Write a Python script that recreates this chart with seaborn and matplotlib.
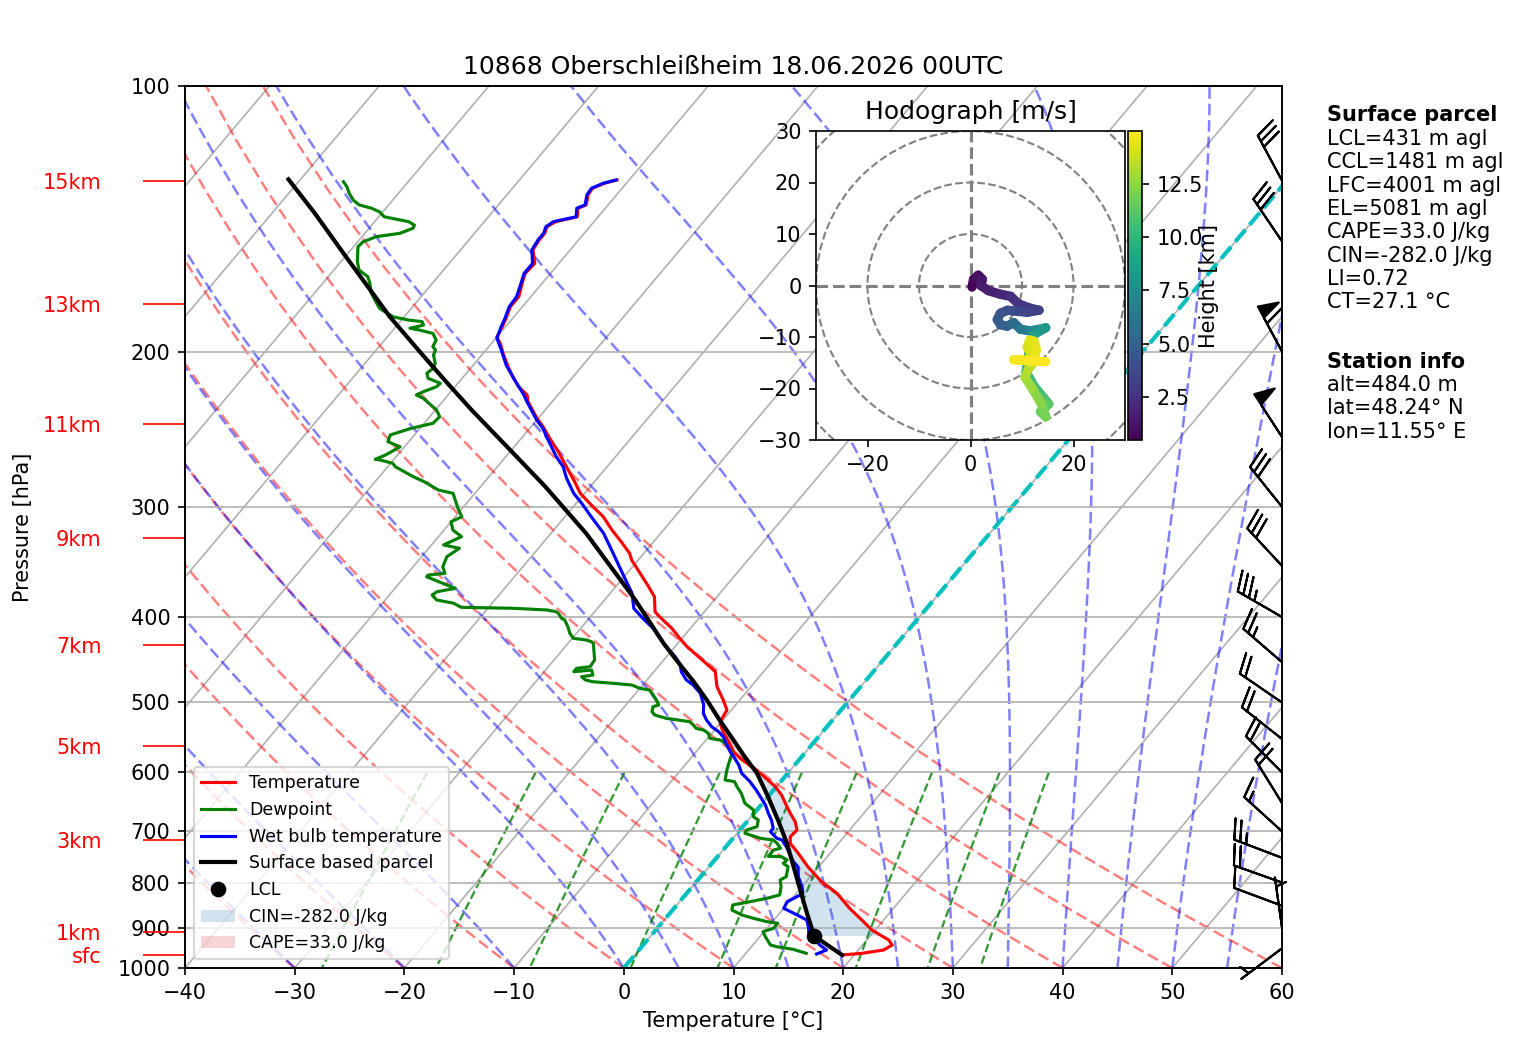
import numpy as np
import matplotlib
matplotlib.use("Agg")
import matplotlib.pyplot as plt
import matplotlib.transforms as mtransforms
from matplotlib.collections import LineCollection
from matplotlib.lines import Line2D
from matplotlib.patches import Patch, Circle
from matplotlib.ticker import NullLocator
from matplotlib.colors import Normalize
import seaborn as sns

# ---------------- data ----------------
TITLE = "10868 Oberschleißheim 18.06.2026 00UTC"

TEMP_P = [966.6, 962.3, 954.1, 941.7, 929.5, 905.6, 886.1, 855.7, 822.8, 798.3, 767.6, 741.2, 722.1, 709.8,
          697.5, 682.6, 667.7, 656.4, 636.6, 622.9, 614.8, 601.5, 591.3, 578.4, 568.6, 553.9, 539.6, 527.9,
          521.1, 509.9, 496.8, 479.8, 461.4, 457.3, 445.5, 432.2, 422.9, 411.9, 399.7, 394.5, 379.4, 369.6,
          356.9, 344.7, 338.7, 327.2, 318.7, 307.9, 298.6, 289.6, 281.0, 270.2, 259.8, 250.9, 243.4, 238.1,
          228.0, 224.0, 219.3, 213.6, 208.1, 200.9, 195.8, 192.6, 187.5, 183.4, 177.9, 173.3, 166.7, 163.1,
          158.9, 153.4, 149.5, 146.9, 144.4, 142.5, 140.7, 137.6, 136.4, 132.9, 130.6, 128.9, 127.8]
TEMP_T = [18.9, 20.6, 22.3, 22.7, 22.0, 19.7, 18.3, 16.0, 13.7, 11.4, 9.0, 7.1, 5.6, 5.1,
          5.2, 4.4, 3.3, 2.5, 1.1, -0.1, -1.0, -2.5, -3.8, -5.5, -6.6, -7.8, -9.1, -10.0,
          -10.2, -10.4, -11.5, -13.1, -14.4, -15.0, -16.8, -18.9, -20.2, -21.7, -23.7, -24.5, -25.7, -27.0,
          -28.8, -30.6, -31.3, -33.2, -34.7, -36.5, -38.5, -40.4, -41.8, -43.7, -45.6, -47.4, -48.9, -50.1,
          -52.2, -52.8, -54.2, -55.5, -56.7, -58.2, -59.2, -60.0, -60.3, -60.6, -61.1, -61.1, -61.9, -62.3,
          -62.2, -63.4, -63.6, -63.6, -63.9, -63.5, -61.9, -62.5, -62.0, -62.6, -62.7, -62.0, -61.1]

DEW_P = [962.3, 952.4, 945.9, 941.7, 921.5, 909.6, 901.6, 889.9, 886.1, 878.3, 870.8, 859.5, 848.3, 841.1,
         833.6, 826.5, 808.8, 794.8, 787.9, 767.6, 760.8, 754.3, 747.8, 747.0, 734.9, 731.6, 722.1, 715.9,
         712.8, 703.5, 697.5, 691.5, 679.6, 673.7, 662.0, 650.5, 633.8, 622.9, 614.8, 612.1, 596.4, 581.0,
         570.9, 556.2, 551.5, 549.0, 541.9, 537.3, 534.9, 530.3, 525.7, 521.1, 516.6, 512.2, 505.5, 503.3,
         496.8, 488.2, 484.0, 481.8, 477.7, 475.6, 473.6, 471.5, 467.5, 465.4, 459.4, 461.4, 457.3, 455.4,
         447.5, 428.4, 426.6, 424.7, 422.9, 417.4, 410.2, 403.1, 401.4, 396.1, 394.5, 392.7, 391.0, 390.0,
         385.9, 382.6, 377.7, 374.4, 371.1, 368.0, 360.1, 358.5, 356.9, 350.8, 341.7, 334.3, 331.4, 324.3,
         318.7, 311.9, 307.9, 301.2, 289.6, 287.1, 281.0, 277.3, 270.2, 267.8, 265.5, 265.0, 262.1, 256.5,
         253.1, 248.7, 244.4, 241.2, 237.1, 233.0, 228.0, 226.0, 224.0, 222.1, 219.3, 217.3, 214.5, 211.7,
         208.9, 206.3, 201.8, 199.2, 197.5, 194.1, 190.8, 189.1, 188.2, 186.7, 185.0, 184.2, 182.7, 178.7,
         171.8, 167.4, 164.5, 161.7, 158.2, 152.1, 150.2, 148.2, 146.9, 145.0, 143.8, 142.5, 140.7, 138.9,
         137.6, 136.4, 134.7, 132.3, 130.1, 128.4]
DEW_T = [15.5, 14.0, 12.3, 11.6, 10.5, 9.9, 10.6, 10.6, 9.5, 8.0, 6.7, 5.4, 5.1, 6.4,
         7.7, 8.6, 8.1, 7.5, 7.8, 7.2, 6.5, 6.6, 5.8, 4.6, 4.6, 5.1, 4.4, 3.8,
         2.5, 0.7, 0.6, 1.3, 0.9, 0.2, -0.3, -1.6, -2.7, -3.6, -4.2, -5.2, -5.8, -6.3,
         -6.6, -8.0, -8.7, -9.8, -10.3, -11.0, -11.8, -12.3, -12.9, -15.3, -16.6, -17.1, -17.4, -17.0,
         -17.6, -18.5, -19.0, -20.0, -21.0, -22.8, -24.8, -25.6, -26.2, -25.3, -25.8, -27.3, -27.3, -26.2,
         -26.3, -27.7, -28.0, -28.6, -29.9, -30.6, -31.3, -32.1, -32.5, -33.2, -33.5, -34.5, -37.7, -42.5,
         -43.5, -45.3, -46.1, -45.9, -44.5, -45.5, -48.0, -48.0, -46.6, -47.3, -47.7, -47.2, -48.9, -47.9,
         -49.2, -50.0, -49.4, -50.4, -52.0, -53.6, -55.5, -56.9, -59.3, -59.8, -61.2, -61.7, -61.1, -60.4,
         -61.9, -62.2, -60.8, -59.2, -59.1, -59.9, -61.4, -62.0, -62.9, -62.5, -61.7, -61.6, -63.1, -63.6,
         -63.4, -63.6, -64.4, -64.6, -65.1, -65.3, -66.1, -67.6, -68.6, -67.6, -68.0, -69.4, -71.0, -72.9,
         -74.8, -75.7, -76.4, -77.7, -78.5, -79.6, -79.5, -78.7, -76.8, -76.0, -76.1, -76.9, -79.5, -80.3,
         -81.3, -82.7, -83.6, -84.5, -85.2, -85.9]

WET_P = [964.1, 954.1, 941.7, 913.4, 901.6, 882.2, 866.9, 855.7, 841.1, 830.2, 822.8, 808.8, 787.9, 767.6,
         757.7, 741.2, 728.6, 715.9, 712.8, 700.6, 694.4, 679.6, 667.7, 653.4, 639.4, 628.3, 614.8, 601.5,
         588.6, 576.0, 568.6, 551.5, 546.7, 539.6, 532.7, 523.4, 514.3, 503.3, 488.2, 477.7, 471.5, 461.4,
         453.4, 443.7, 432.2, 422.0, 411.9, 401.4, 391.0, 376.0, 368.0, 350.8, 338.7, 321.5, 307.9, 297.3,
         289.6, 278.5, 270.2, 263.2, 258.7, 249.9, 244.4, 239.2, 227.0, 224.0, 214.5, 207.2, 199.2, 193.2,
         187.5, 183.4, 177.9, 173.3, 166.7, 163.1, 158.9, 153.4, 149.5, 146.9, 144.4, 142.5, 140.7, 137.6,
         136.4, 132.9, 130.6, 128.9, 127.8]
WET_T = [16.5, 17.1, 16.1, 14.2, 13.8, 13.0, 11.3, 10.0, 9.8, 10.3, 10.6, 10.0, 8.9, 8.1,
         7.3, 6.3, 5.5, 4.6, 4.0, 2.9, 2.9, 2.1, 1.3, 0.4, -0.7, -1.6, -2.8, -4.2,
         -5.1, -6.2, -6.9, -8.3, -8.7, -9.5, -10.5, -11.5, -12.3, -12.9, -14.1, -15.4, -16.4, -17.5,
         -18.1, -19.2, -20.8, -22.1, -23.4, -25.1, -26.7, -28.0, -29.0, -31.2, -32.8, -35.2, -37.6, -39.5,
         -41.0, -42.8, -44.0, -45.4, -46.2, -47.8, -48.8, -50.0, -52.5, -53.1, -55.3, -57.0, -58.6, -59.9,
         -60.4, -60.7, -61.2, -61.3, -62.0, -62.4, -62.4, -63.5, -63.7, -63.7, -64.0, -63.7, -62.0, -62.6,
         -62.1, -62.7, -62.8, -62.1, -61.2]

PARCEL_P = [966.6, 919.9, 866.9, 815.8, 767.6, 722.1, 679.6, 639.4, 601.5, 576.0, 551.5, 523.4, 496.8, 473.6,
            449.5, 428.4, 382.6, 366.3, 321.5, 284.6, 258.7, 233.0, 216.4, 201.8, 182.7, 154.8, 139.4, 127.6]
PARCEL_T = [18.9, 14.9, 12.5, 10.1, 7.7, 5.3, 2.7, 0.0, -2.8, -5.2, -7.5, -10.3, -13.0, -15.6,
            -18.6, -21.3, -27.2, -29.6, -36.8, -44.1, -50.1, -56.7, -61.2, -65.4, -71.3, -80.4, -86.1, -91.1]

LCL_P, LCL_T = 919.9, 14.9
EL_P = 524.0
CAPE_LABEL = "CAPE=33.0 J/kg"
CIN_LABEL = "CIN=-282.0 J/kg"

# wind barbs (knots)
BARB_P = [950, 900, 850, 800, 750, 700, 650, 600, 550, 500, 450, 400, 350, 300, 250, 200, 150, 128]
BARB_U = [4.0, 0.7, 9.4, 18.8, 23.4, 11.1, 10.5, 14.1, 15.7, 16.5, 18.9, 30.3, 20.4, 18.8, 27.2, 28.4, 16.8, 14.2]
BARB_V = [3.0, -4.95, -3.5, -6.7, -8.9, -10.1, -17.0, -14.1, -12.4, -11.3, -16.3, -17.5, -22.0, -23.4,
          -41.9, -52.8, -24.8, -26.4]

# hodograph (m/s) and height (km)
HODO_U = [0.3, 0.6, 1.5, 2.3, 2.0, 3.5, 5.8, 7.8, 9.1, 10.4, 12.3, 13.3, 11.0, 9.0, 7.2, 5.8, 5.2, 5.8, 7.1, 8.4,
          9.7, 11.5, 13.5, 14.6, 12.3, 11.5, 11.2, 10.8, 12.3, 14.2, 15.2, 13.6, 14.6, 13.8, 12.0, 10.6, 11.2,
          12.0, 11.8, 11.0, 11.5, 12.3, 12.8, 12.2, 8.4, 11.0, 14.6]
HODO_V = [-0.3, 1.2, 2.0, 1.2, 0.0, -1.0, -1.7, -2.1, -3.4, -4.0, -4.6, -4.8, -5.2, -5.0, -4.8, -5.4, -6.6, -7.6,
          -7.9, -7.2, -8.5, -8.8, -8.5, -8.2, -9.5, -11.5, -14.0, -16.8, -19.5, -21.8, -23.0, -24.5, -25.5,
          -23.0, -20.0, -17.8, -16.3, -15.2, -13.5, -12.0, -10.6, -10.8, -12.5, -14.5, -14.4, -14.6, -14.8]
HODO_H = [0.48, 0.8, 1.0, 1.2, 1.4, 1.6, 1.9, 2.2, 2.5, 2.7, 3.0, 3.2, 3.4, 3.6, 3.8, 4.0, 4.3, 4.6, 4.9, 5.2,
          6.0, 6.8, 7.5, 8.0, 8.4, 8.8, 9.3, 9.8, 10.3, 10.8, 11.1, 11.4, 11.8, 12.2, 12.6, 13.0, 13.3,
          13.6, 13.8, 14.0, 14.2, 14.3, 14.45, 14.6, 14.7, 14.85, 14.98]
CBAR_TICKS = [2.5, 5.0, 7.5, 10.0, 12.5]

HGT_P = [966.6, 910.3, 715.9, 560.2, 430.2, 325.5, 241.6, 176.7, 128.1]
HGT_LABELS = ["sfc", "1km", "3km", "5km", "7km", "9km", "11km", "13km", "15km"]

YTICKS = [100, 200, 300, 400, 500, 600, 700, 800, 900, 1000]
YTICK_LABELS = ["100", "200", "300", "400", "500", "600", "700", "800", "900", "1000"]
XTICKS = [-40, -30, -20, -10, 0, 10, 20, 30, 40, 50, 60]

PARCEL_TEXT = ["LCL=431 m agl", "CCL=1481 m agl", "LFC=4001 m agl", "EL=5081 m agl",
               "CAPE=33.0 J/kg", "CIN=-282.0 J/kg", "LI=0.72", "CT=27.1 °C"]
STATION_TEXT = ["alt=484.0 m", "lat=48.24° N", "lon=11.55° E"]

DRY_T0 = np.arange(-40, 61, 10)
MOIST_T0 = np.concatenate((np.arange(-40, 0, 10), np.arange(0, 61, 5)))
MIX_W = [0.0004, 0.001, 0.002, 0.004, 0.007, 0.01, 0.016, 0.024, 0.032]

# ---------------- figure ----------------
W, H, DPI = 1517, 1054, 150
fig = plt.figure(figsize=(W / DPI, H / DPI), dpi=DPI)
ax = fig.add_axes([185 / W, (H - 968) / H, 1097 / W, 882 / H])
ax.set_yscale("log")
ax.set_xlim(-40, 60)
ax.set_ylim(1000, 100)
ax.set_autoscale_on(False)

SKEW_DEG = np.degrees(np.arctan(0.842 * 882 / 1097))
skew = ax.transScale + ax.transLimits + mtransforms.Affine2D().skew_deg(SKEW_DEG, 0) + ax.transAxes

# isotherms
for t in np.arange(-140, 61, 10):
    ax.plot([t, t], [1000, 100], color="#b0b0b0", lw=0.8, transform=skew, zorder=0.8)

DASH = (0, (4.6, 2.0))

# dry adiabats
p_lines = np.linspace(1000, 100, 60)
segs = []
for th in DRY_T0:
    tt = (th + 273.15) * (p_lines / 1000.0) ** 0.28571 - 273.15
    segs.append(np.column_stack([tt, p_lines]))
ax.add_collection(LineCollection(segs, colors="r", linestyles=[DASH], alpha=0.5, linewidths=1.2,
                                 transform=skew, zorder=1), autolim=False)

# moist adiabats
def moist_profiles(t0c, p):
    Rd, Cp, Lv, eps = 287.04749, 1004.6662, 2.50084e6, 0.62196

    def f(pp, T):
        es = 6.112 * np.exp(17.67 * (T - 273.15) / (T - 29.65))
        rs = eps * es / (pp - es)
        return (Rd * T + Lv * rs) / (Cp + Lv * Lv * rs * eps / (Rd * T * T)) / pp

    T = np.zeros((len(p), len(t0c)))
    T[0] = np.asarray(t0c, float) + 273.15
    for i in range(1, len(p)):
        h = p[i] - p[i - 1]
        y = T[i - 1]
        k1 = f(p[i - 1], y)
        k2 = f(p[i - 1] + h / 2, y + h / 2 * k1)
        k3 = f(p[i - 1] + h / 2, y + h / 2 * k2)
        k4 = f(p[i], y + h * k3)
        T[i] = y + h / 6 * (k1 + 2 * k2 + 2 * k3 + k4)
    return T - 273.15

p_moist = np.linspace(1000, 100, 200)
tm = moist_profiles(MOIST_T0, p_moist)
segs = [np.column_stack([tm[:, j], p_moist]) for j in range(len(MOIST_T0))]
ax.add_collection(LineCollection(segs, colors="b", linestyles=[DASH], alpha=0.5, linewidths=1.2,
                                 transform=skew, zorder=1), autolim=False)

# mixing ratio lines
p_mix = np.linspace(600, 1000, 50)
segs = []
for w in MIX_W:
    e = p_mix * w / (0.622 + w)
    lne = np.log(e / 6.112)
    td = 243.5 * lne / (17.67 - lne)
    segs.append(np.column_stack([td, p_mix]))
ax.add_collection(LineCollection(segs, colors="g", linestyles="dashed", alpha=0.8, linewidths=1.1,
                                 transform=skew, zorder=1), autolim=False)

# 0 degC isotherm
ax.plot([0, 0], [1000, 100], color="c", ls="--", lw=2, transform=skew, zorder=1.5)

# CIN / CAPE shading
tp = np.array(TEMP_P); tt = np.array(TEMP_T)
pp_ = np.array(PARCEL_P); pt_ = np.array(PARCEL_T)
grid = np.concatenate([[LCL_P], tp[(tp < LCL_P) & (tp > EL_P)], [EL_P]])
t_env = np.interp(-np.log(grid), -np.log(tp), tt)
t_par = np.interp(-np.log(grid), -np.log(pp_), pt_)
ax.fill_betweenx(grid, t_par, t_env, where=t_par <= t_env, interpolate=True, facecolor="tab:blue",
                 alpha=0.2, lw=0, transform=skew, zorder=1.2)
ax.fill_betweenx(grid, t_par, t_env, where=t_par >= t_env, interpolate=True, facecolor="tab:red",
                 alpha=0.2, lw=0, transform=skew, zorder=1.2)

# profiles (seaborn)
sns.lineplot(x=TEMP_T, y=TEMP_P, ax=ax, sort=False, estimator=None, color="r", lw=1.5, transform=skew)
sns.lineplot(x=DEW_T, y=DEW_P, ax=ax, sort=False, estimator=None, color="g", lw=1.5, transform=skew)
sns.lineplot(x=WET_T, y=WET_P, ax=ax, sort=False, estimator=None, color="b", lw=1.5, transform=skew)
sns.lineplot(x=PARCEL_T, y=PARCEL_P, ax=ax, sort=False, estimator=None, color="k", lw=2, transform=skew)
ax.plot([LCL_T], [LCL_P], "o", color="k", ms=6.5, transform=skew, zorder=3)

# barbs
btr = mtransforms.blended_transform_factory(ax.transAxes, ax.transData)
ax.barbs(np.ones(len(BARB_P)), BARB_P, BARB_U, BARB_V, transform=btr, clip_on=False, length=7, zorder=4)

# axes cosmetics
ax.set_xlim(-40, 60)
ax.set_ylim(1000, 100)
ax.set_yticks(YTICKS, labels=YTICK_LABELS)
ax.yaxis.set_minor_locator(NullLocator())
ax.set_xticks(XTICKS)
ax.yaxis.grid(True, color="#b0b0b0", lw=0.8)
ax.set_xlabel("Temperature [°C]")
ax.set_ylabel("Pressure [hPa]")
ax.yaxis.set_label_coords((33.5 - 185) / 1097, 0.5)
ax.set_title(TITLE)

handles = [Line2D([], [], color="r", lw=1.5), Line2D([], [], color="g", lw=1.5),
           Line2D([], [], color="b", lw=1.5), Line2D([], [], color="k", lw=2),
           Line2D([], [], color="k", marker="o", ls="none", ms=6.5),
           Patch(facecolor="tab:blue", alpha=0.2), Patch(facecolor="tab:red", alpha=0.2)]
labels = ["Temperature", "Dewpoint", "Wet bulb temperature", "Surface based parcel", "LCL",
          CIN_LABEL, CAPE_LABEL]
ax.legend(handles, labels, loc="lower left", fontsize="small")

# height labels on the left
ax2 = ax.twinx()
ax2.set_yscale("log")
ax2.set_ylim(1000, 100)
ax2.set_yticks(HGT_P, labels=HGT_LABELS)
ax2.yaxis.set_minor_locator(NullLocator())
ax2.yaxis.tick_left()
ax2.tick_params(axis="y", colors="red", length=20, pad=20)

# hodograph
hax = fig.add_axes([816 / W, (H - 440) / H, 309 / W, 309 / H])
hax.set_xlim(-30, 30)
hax.set_ylim(-30, 30)
for r in (10, 20, 30, 40):
    hax.add_patch(Circle((0, 0), r, fill=False, edgecolor="grey", ls="--", lw=1.0))
hax.axhline(0, color="grey", ls="--", lw=1.5)
hax.axvline(0, color="grey", ls="--", lw=1.5)
hu = np.array(HODO_U); hv = np.array(HODO_V); hh = np.array(HODO_H)
pts = np.column_stack([hu, hv]).reshape(-1, 1, 2)
hsegs = np.concatenate([pts[:-1], pts[1:]], axis=1)
lc = LineCollection(hsegs, cmap="viridis", norm=Normalize(hh.min(), hh.max()), linewidths=4.5,
                    capstyle="round", joinstyle="round")
lc.set_array(0.5 * (hh[:-1] + hh[1:]))
hax.add_collection(lc, autolim=False)
hax.set_xticks([-20, 0, 20])
hax.set_yticks([-30, -20, -10, 0, 10, 20, 30])
hax.set_title("Hodograph [m/s]")

cax = fig.add_axes([1128.3 / W, (H - 440) / H, 14 / W, 309 / H])
cb = fig.colorbar(lc, cax=cax)
cb.set_ticks(CBAR_TICKS)
cb.set_label("Height [km]", labelpad=-2)

# right-hand text
x0 = 1327 / W
fig.text(x0, 1 - 121.0 / H, "Surface parcel", fontweight="bold", va="baseline", ha="left")
for i, s in enumerate(PARCEL_TEXT):
    fig.text(x0, 1 - (145.1 + 23.3 * i) / H, s, va="baseline", ha="left")
fig.text(x0, 1 - 367.6 / H, "Station info", fontweight="bold", va="baseline", ha="left")
for i, s in enumerate(STATION_TEXT):
    fig.text(x0, 1 - (390.9 + 23.3 * i) / H, s, va="baseline", ha="left")

fig.savefig("out.png", dpi=DPI)
